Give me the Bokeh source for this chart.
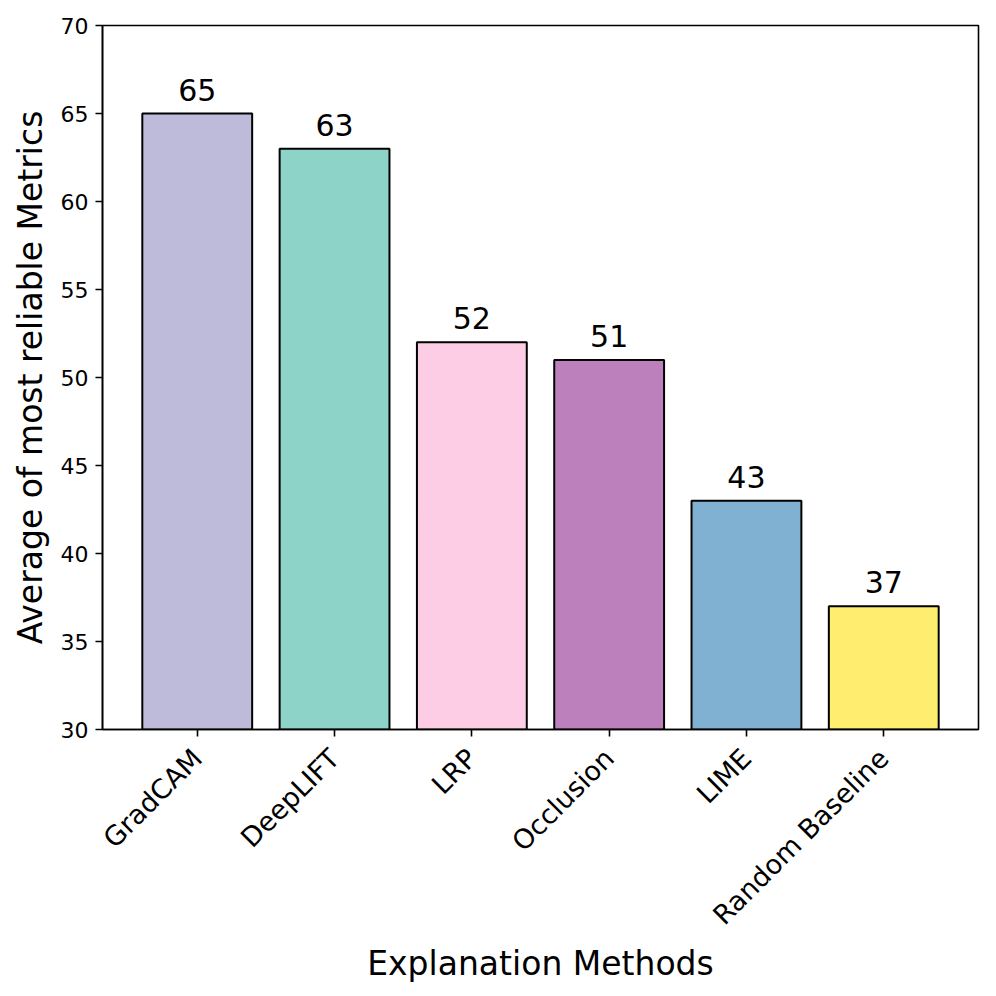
import math
from bokeh.plotting import figure
from bokeh.models import ColumnDataSource, FixedTicker, LabelSet
from bokeh.core.properties import value
from bokeh.embed import file_html
from bokeh.resources import INLINE

methods = ["GradCAM", "DeepLIFT", "LRP", "Occlusion", "LIME", "Random Baseline"]
scores = [65, 63, 52, 51, 43, 37]
colors = ["#bebada", "#8dd3c7", "#fccde5", "#bc80bd", "#80b1d3", "#ffed6f"]
y_ticks = [30, 35, 40, 45, 50, 55, 60, 65, 70]

xs = list(range(len(methods)))
src = ColumnDataSource(dict(x=xs, top=scores, color=colors,
                            label=[str(v) for v in scores]))

FONT = "DejaVu Sans"

p = figure(width=988, height=988, output_backend="svg", toolbar_location=None,
           x_range=(-0.69, 5.69), y_range=(30, 70),
           min_border_left=102, min_border_right=10, min_border_top=25,
           min_border_bottom=259)
p.xgrid.visible = False
p.ygrid.visible = False
p.outline_line_color = "black"
p.outline_line_width = 1.6
p.background_fill_color = "white"
p.border_fill_color = "white"

p.vbar(x="x", top="top", bottom=0, width=0.8, source=src,
       fill_color="color", line_color="black", line_width=2)

value_labels = LabelSet(x="x", y="top", text="label", source=src,
                        text_align="center", text_baseline="alphabetic",
                        y_offset=13, text_font=value(FONT),
                        text_font_size="30px", text_color="black")
p.add_layout(value_labels)

xa = p.xaxis[0]
xa.ticker = FixedTicker(ticks=xs)
xa.major_label_overrides = {i: m for i, m in enumerate(methods)}
xa.major_label_orientation = math.pi / 4
xa.major_label_text_font = FONT
xa.major_label_text_font_size = "27px"
xa.major_label_standoff = 17
xa.axis_label = "Explanation Methods"
xa.axis_label_text_font = FONT
xa.axis_label_text_font_size = "33px"
xa.axis_label_text_font_style = "normal"
xa.axis_label_standoff = 0

ya = p.yaxis[0]
ya.ticker = FixedTicker(ticks=y_ticks)
ya.major_label_text_font = FONT
ya.major_label_text_font_size = "22px"
ya.major_label_standoff = 7
ya.axis_label = "Average of most reliable Metrics"
ya.axis_label_text_font = FONT
ya.axis_label_text_font_size = "33px"
ya.axis_label_text_font_style = "normal"
ya.axis_label_standoff = 8

for ax in (xa, ya):
    ax.axis_line_color = "black"
    ax.axis_line_width = 1.6
    ax.major_tick_line_color = "black"
    ax.major_tick_line_width = 1.6
    ax.major_tick_out = 7
    ax.major_tick_in = 0
    ax.minor_tick_line_color = None
    ax.major_label_text_color = "black"
    ax.axis_label_text_color = "black"

open("out.html", "w").write(file_html(p, INLINE))
